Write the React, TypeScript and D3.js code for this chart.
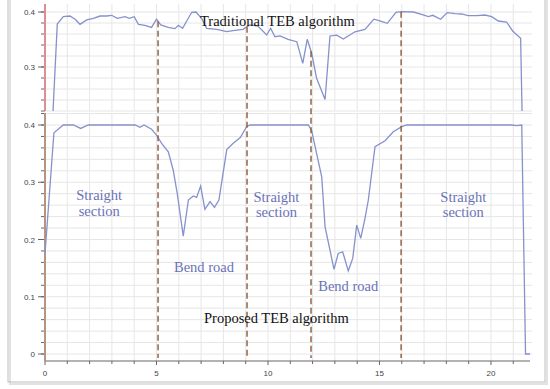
import { useEffect, useRef } from "react";
import * as d3 from "d3";

// Traditional TEB algorithm (top panel) [x, velocity]
const traditional: [number, number][] = [
  [0.3, 0.17], [0.55, 0.378], [0.82, 0.3915], [1.12, 0.3927], [1.35, 0.3867], [1.57, 0.3776],
  [1.87, 0.3855], [2.17, 0.3885], [2.47, 0.3927], [2.77, 0.3927], [2.99, 0.394], [3.24, 0.3885],
  [3.59, 0.3915], [3.78, 0.3885], [4.0, 0.3915], [4.19, 0.3776], [4.48, 0.3758], [4.78, 0.372],
  [5.0, 0.387], [5.19, 0.3764], [5.53, 0.372], [5.83, 0.3697], [5.98, 0.3758], [6.17, 0.3703],
  [6.58, 0.3995], [6.77, 0.4], [7.03, 0.388], [7.25, 0.3704], [7.7, 0.3685], [8.15, 0.3642],
  [8.43, 0.366], [8.88, 0.3685], [9.19, 0.3764], [9.55, 0.3745], [9.94, 0.3582], [10.12, 0.3704],
  [10.31, 0.355], [10.54, 0.3564], [10.9, 0.3504], [11.29, 0.346], [11.56, 0.3067], [11.76, 0.3504],
  [11.96, 0.325], [12.18, 0.2795], [12.56, 0.241], [12.78, 0.3564], [13.08, 0.358], [13.38, 0.351],
  [13.9, 0.364], [14.35, 0.3685], [14.75, 0.387], [15.05, 0.3836], [15.35, 0.3794], [15.74, 0.3995],
  [16.0, 0.4005], [16.52, 0.4], [16.89, 0.3958], [17.19, 0.3915], [17.39, 0.394], [17.74, 0.3867],
  [18.04, 0.3988], [18.39, 0.397], [18.68, 0.3964], [18.98, 0.3933], [19.36, 0.3933], [19.73, 0.3945],
  [20.03, 0.3915], [20.33, 0.3836], [20.7, 0.3818], [20.97, 0.3655], [21.33, 0.3522], [21.5, 0.0],
];

// Proposed TEB algorithm (bottom panel)
const proposed: [number, number][] = [
  [0, 0.175], [0.4, 0.3865], [0.82, 0.4], [1.27, 0.4], [1.6, 0.394], [1.94, 0.4], [4.04, 0.4],
  [4.26, 0.396], [4.44, 0.4], [4.78, 0.3925], [5.0, 0.3825], [5.23, 0.368], [5.53, 0.3533],
  [5.75, 0.321], [5.93, 0.2806], [6.2, 0.206], [6.43, 0.269], [6.65, 0.276], [6.8, 0.2736],
  [6.98, 0.2933], [7.17, 0.2526], [7.4, 0.266], [7.6, 0.256], [7.8, 0.269], [8.15, 0.357],
  [8.44, 0.368], [8.76, 0.378], [9.04, 0.397], [9.19, 0.4], [11.81, 0.4], [11.96, 0.39],
  [12.18, 0.3505], [12.41, 0.3096], [12.56, 0.2222], [12.78, 0.1815], [12.96, 0.1477],
  [13.15, 0.1757], [13.35, 0.1786], [13.6, 0.1453], [13.8, 0.167], [13.98, 0.2252], [14.16, 0.202],
  [14.35, 0.237], [14.5, 0.269], [14.8, 0.362], [15.25, 0.3726], [15.62, 0.3883], [16.0, 0.397],
  [16.22, 0.4], [20.93, 0.4], [21.15, 0.3989], [21.38, 0.4], [21.55, 0], [21.75, 0],
];

const dividers = [5.07, 9.06, 11.93, 15.97];
const xTicks = [0, 5, 10, 15, 20];
const topYTicks = [0.3, 0.4];
const bottomYTicks = [0, 0.1, 0.2, 0.3, 0.4];

const sectionLabels = [
  { x: 2.43, lines: ["Straight", "section"], row: 0 },
  { x: 10.38, lines: ["Straight", "section"], row: 1 },
  { x: 18.76, lines: ["Straight", "section"], row: 1 },
];
const bendLabels = [
  { x: 7.13, row: 0 },
  { x: 13.6, row: 1 },
];

const W = 550;
const H = 389;
const lineColor = "#8592cc";
const labelColor = "#6a72b6";
const serif = "'Liberation Serif', 'DejaVu Serif', serif";
const sans = "'Liberation Sans', Arial, sans-serif";

export default function App() {
  const svgRef = useRef<SVGSVGElement | null>(null);

  useEffect(() => {
    const svgElement = svgRef.current;
    if (!svgElement) return;
    const svg = d3.select(svgElement);
    svg.selectAll("*").remove();

    const x = d3.scaleLinear().domain([0, 21.84]).range([45, 532]);
    const yTop = d3.scaleLinear().domain([0.22, 0.4]).range([111, 12]);
    const yBot = d3.scaleLinear().domain([0, 0.4]).range([354, 125]);
    const topPanel = { y0: 4, y1: 111 };
    const botPanel = { y0: 113, y1: 361 };

    svg.append("rect").attr("width", W).attr("height", H).attr("fill", "#fff");

    // frame with a soft shadow
    svg.append("rect").attr("x", 10).attr("y", -2).attr("width", 537).attr("height", 386)
      .attr("fill", "none").attr("stroke", "#e2e2e2").attr("stroke-width", 2);
    svg.append("rect").attr("x", 8).attr("y", -4).attr("width", 537).attr("height", 386)
      .attr("fill", "none").attr("stroke", "#bdbdbd").attr("stroke-width", 1);

    const defs = svg.append("defs");
    defs.append("clipPath").attr("id", "clip-top").append("rect")
      .attr("x", 45).attr("y", topPanel.y0).attr("width", 490).attr("height", topPanel.y1 - topPanel.y0);

    const gridColor = "#e6e6e6";
    const grid = svg.append("g").attr("stroke", gridColor).attr("stroke-width", 1);
    const vTicks = d3.range(1, 22);
    [topPanel, botPanel].forEach((p) => {
      grid.selectAll(null).data(vTicks).join("line")
        .attr("x1", (d) => x(d)).attr("x2", (d) => x(d))
        .attr("y1", p.y0).attr("y2", p.y1);
    });
    const topGrid = d3.range(0.22, 0.4001, 0.02);
    const botGrid = d3.range(0, 0.4201, 0.02);
    grid.selectAll(null).data(topGrid).join("line")
      .attr("x1", 45).attr("x2", 532).attr("y1", (d) => yTop(d)).attr("y2", (d) => yTop(d));
    grid.selectAll(null).data(botGrid).join("line")
      .attr("x1", 45).attr("x2", 532).attr("y1", (d) => yBot(d)).attr("y2", (d) => yBot(d));

    // y axes ticks
    const axisG = svg.append("g").attr("stroke", "#666").attr("stroke-width", 1);
    const yTickGroups: [d3.ScaleLinear<number, number>, number[], number[]][] = [
      [yTop, topGrid, topYTicks],
      [yBot, botGrid, bottomYTicks],
    ];
    yTickGroups.forEach(([scale, minor, major]) => {
      axisG.selectAll(null).data(minor).join("line")
        .attr("x1", 41).attr("x2", 45).attr("y1", (d) => scale(d)).attr("y2", (d) => scale(d));
      axisG.selectAll(null).data(major).join("line")
        .attr("x1", 38).attr("x2", 45).attr("y1", (d) => scale(d)).attr("y2", (d) => scale(d));
      svg.append("g").selectAll("text").data(major).join("text")
        .attr("x", 35).attr("y", (d) => scale(d) + 3)
        .attr("text-anchor", "end").attr("font-family", sans).attr("font-size", 8)
        .attr("fill", "#444").text((d) => (d === 0 ? "0" : d.toFixed(1)));
    });

    // x axis
    const xAxisY = 361;
    axisG.append("line").attr("x1", 45).attr("x2", 530).attr("y1", xAxisY).attr("y2", xAxisY);
    axisG.selectAll(null).data(d3.range(0, 22)).join("line")
      .attr("x1", (d) => x(d)).attr("x2", (d) => x(d))
      .attr("y1", xAxisY).attr("y2", (d) => (d % 5 === 0 ? xAxisY + 4 : xAxisY + 3));
    svg.append("g").selectAll("text").data(xTicks).join("text")
      .attr("x", (d) => x(d)).attr("y", 376).attr("text-anchor", "middle")
      .attr("font-family", sans).attr("font-size", 8).attr("fill", "#444").text((d) => String(d));

    // left axis line
    svg.append("line").attr("x1", 45).attr("x2", 45).attr("y1", topPanel.y0).attr("y2", topPanel.y1)
      .attr("stroke", "#dd8f8f").attr("stroke-width", 2);
    svg.append("line").attr("x1", 45).attr("x2", 45).attr("y1", botPanel.y0).attr("y2", botPanel.y1)
      .attr("stroke", "#b89480").attr("stroke-width", 2);

    // series
    const lineTop = d3.line<[number, number]>().x((d) => x(d[0])).y((d) => yTop(d[1]));
    const lineBot = d3.line<[number, number]>().x((d) => x(d[0])).y((d) => yBot(d[1]));
    svg.append("path").datum(traditional).attr("d", lineTop).attr("clip-path", "url(#clip-top)")
      .attr("fill", "none").attr("stroke", lineColor).attr("stroke-width", 1.3);
    svg.append("path").datum(proposed).attr("d", lineBot)
      .attr("fill", "none").attr("stroke", lineColor).attr("stroke-width", 1.3);

    // dashed section dividers start on the traditional curve
    const tx = traditional.map((d) => d[0]);
    const ty = traditional.map((d) => d[1]);
    const interp = (v: number) => {
      const i = d3.bisectRight(tx, v);
      const t = (v - tx[i - 1]) / (tx[i] - tx[i - 1]);
      return ty[i - 1] + t * (ty[i] - ty[i - 1]);
    };
    svg.append("g").selectAll("line").data(dividers).join("line")
      .attr("x1", (d) => x(d)).attr("x2", (d) => x(d))
      .attr("y1", (d) => yTop(interp(d))).attr("y2", 358)
      .attr("stroke", "#8a5a3a").attr("stroke-width", 1.4).attr("stroke-dasharray", "6,3.5");

    // labels
    svg.append("text").attr("x", 200).attr("y", 26).attr("font-family", serif).attr("font-size", 14.5)
      .attr("fill", "#111").text("Traditional TEB algorithm");
    svg.append("text").attr("x", 204).attr("y", 323).attr("font-family", serif).attr("font-size", 14.5)
      .attr("fill", "#111").text("Proposed TEB algorithm");

    sectionLabels.forEach((l) => {
      const base = l.row === 0 ? 200 : 201.5;
      l.lines.forEach((s, i) => {
        svg.append("text").attr("x", x(l.x)).attr("y", base + i * 15.5).attr("text-anchor", "middle")
          .attr("font-family", serif).attr("font-size", 14.5).attr("fill", labelColor).text(s);
      });
    });
    bendLabels.forEach((l) => {
      svg.append("text").attr("x", x(l.x)).attr("y", l.row === 0 ? 271.5 : 291)
        .attr("text-anchor", "middle").attr("font-family", serif).attr("font-size", 14.5)
        .attr("fill", labelColor).text("Bend road");
    });
  }, []);

  return (
    <svg
      ref={svgRef}
      width={W}
      height={H}
      style={{ position: "absolute", left: 0, top: 0, display: "block" }}
    />
  );
}
